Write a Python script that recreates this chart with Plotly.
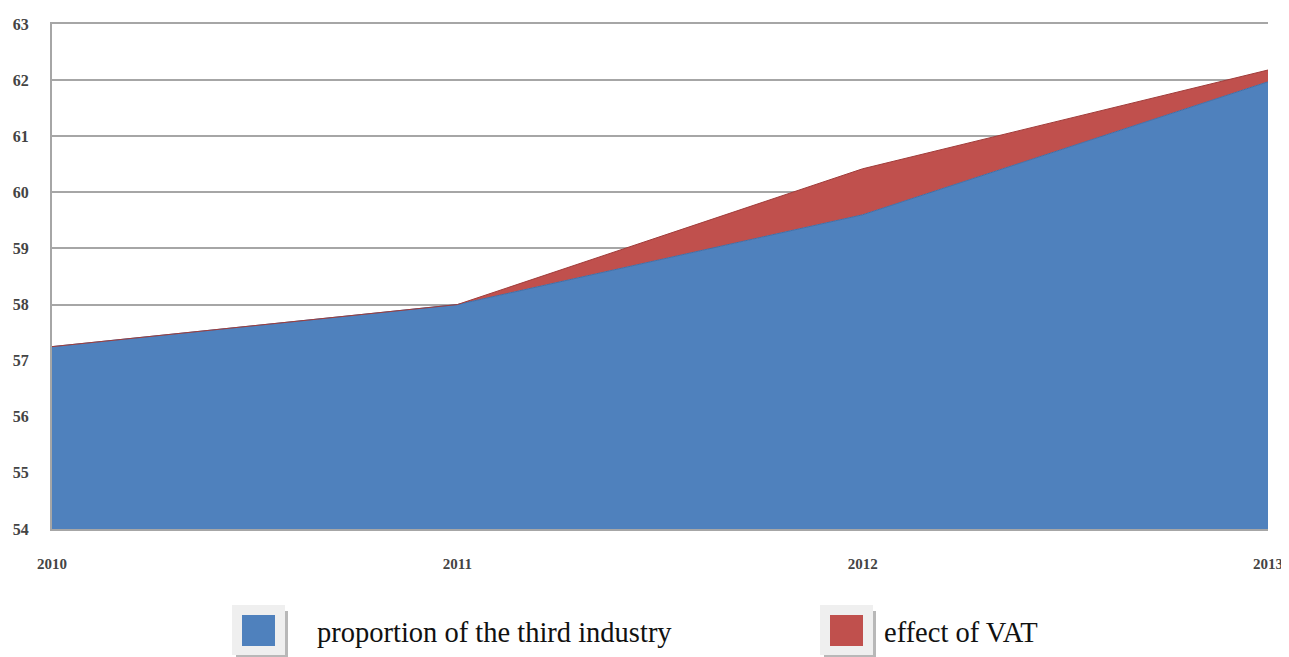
import plotly.graph_objects as go

years = [2010, 2011, 2012, 2013]
third_industry = [57.25, 58.0, 59.6, 61.97]
vat_effect = [0.0, 0.0, 0.82, 0.21]
y_ticks = list(range(54, 64))
series_names = ["proportion of the third industry", "effect of VAT"]
blue = "#4F81BD"
red = "#C0504D"

fig = go.Figure()
fig.add_trace(go.Scatter(x=years, y=third_industry, stackgroup="s", mode="lines",
                         line=dict(color="#3f6fa8", width=1), fillcolor=blue,
                         name=series_names[0], showlegend=False))
fig.add_trace(go.Scatter(x=years, y=vat_effect, stackgroup="s", mode="lines",
                         line=dict(color="#a03c3a", width=1), fillcolor=red,
                         name=series_names[1], showlegend=False))

# plot area in page pixels (page has 8px body margin)
L, R, T, B = 52, 1268, 22, 527
def px(x):
    return (x - L) / (R - L)
def py(y):
    return (B - y) / (B - T)

# manual legend
legend_items = [
    (series_names[0], blue, 232, 315),
    (series_names[1], red, 820, 882),
]
for name, col, bx, tx in legend_items:
    fig.add_shape(type="rect", xref="paper", yref="paper",
                  x0=px(bx + 4), x1=px(bx + 56), y0=py(605 + 4), y1=py(656),
                  fillcolor="#b8b8b8", line=dict(width=0))
    fig.add_shape(type="rect", xref="paper", yref="paper",
                  x0=px(bx), x1=px(bx + 53), y0=py(603), y1=py(653),
                  fillcolor="#efefef", line=dict(width=0))
    fig.add_shape(type="rect", xref="paper", yref="paper",
                  x0=px(bx + 10), x1=px(bx + 43), y0=py(613), y1=py(644),
                  fillcolor=col, line=dict(width=0))
    fig.add_annotation(xref="paper", yref="paper", x=px(tx), y=py(630),
                       xanchor="left", yanchor="middle", showarrow=False, text=name,
                       font=dict(family="Liberation Serif", size=28.5, color="#111"))

fig.update_layout(
    width=1281, height=649,
    margin=dict(l=44, r=21, t=16, b=128),
    plot_bgcolor="white", paper_bgcolor="white",
    showlegend=False,
    xaxis=dict(range=[2010, 2013], tickvals=years, ticktext=[str(y) for y in years],
               showgrid=False, zeroline=False, showline=True, mirror=True,
               linecolor="#a6a6a6", linewidth=2, ticks="", automargin=False,
               ticklabelstandoff=20, ticklabeloverflow="allow",
               tickfont=dict(family="Liberation Serif", size=15, color="#444", weight="bold")),
    yaxis=dict(range=[54, 63], tickvals=y_ticks, showgrid=True, gridcolor="#a6a6a6",
               gridwidth=2, zeroline=False, showline=True, linecolor="#a6a6a6",
               linewidth=2, ticks="", ticklabelstandoff=18, automargin=False,
               tickfont=dict(family="Liberation Serif", size=16, color="#444", weight="bold")),
)

fig.write_html("out.html")
